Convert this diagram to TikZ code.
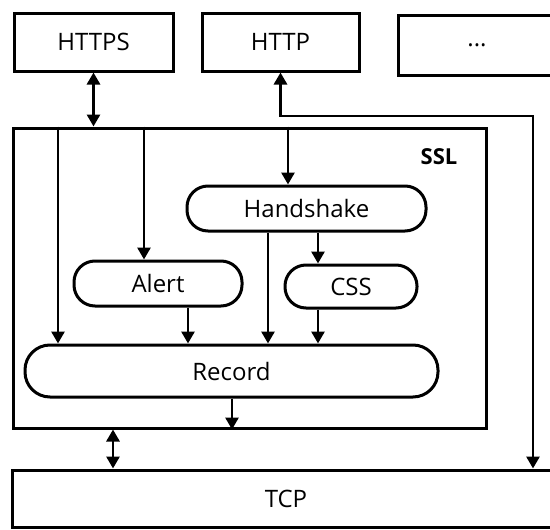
\documentclass[tikz,border=0pt]{standalone}
\usepackage{fontspec}
\setmainfont{Open Sans}
\usetikzlibrary{arrows.meta}
\begin{document}
\begin{tikzpicture}[x=1pt,y=-1pt,
  box/.style={draw, line width=3pt, rectangle, inner sep=0pt,
    font=\fontsize{24}{28}\selectfont},
  pill/.style={box, rounded corners=21pt},
  arr/.style={line width=2.8pt, -{Triangle[width=13pt,length=12pt]}},
  darr/.style={line width=2.8pt,
    {Triangle[width=13pt,length=12pt]}-{Triangle[width=13pt,length=12pt]}}]
\useasboundingbox (0,0) rectangle (550,530);
\fill[white] (0,0) rectangle (550,530);

% application protocols
\node[box, minimum width=159pt, minimum height=58pt] (https) at (93.5,42) {HTTPS};
\node[box, minimum width=157pt, minimum height=58pt] (http) at (280.5,42) {HTTP};
\node[box, minimum width=158pt, minimum height=60pt] (more) at (477,45) {...};

% SSL layer
\node[box, minimum width=473pt, minimum height=300pt] (ssl) at (249.5,278) {};
\node[font=\bfseries\fontsize{22}{26}\selectfont] (ssllbl) at (439,157) {SSL};
\node[pill, minimum width=239pt, minimum height=45pt] (hs) at (306.5,208.5) {Handshake};
\node[pill, minimum width=168pt, minimum height=45pt] (alert) at (158,283.5) {Alert};
\node[pill, minimum width=132pt, minimum height=43pt] (css) at (351,286.5) {CSS};
\node[pill, minimum width=413pt, minimum height=52pt, rounded corners=25pt] (rec) at (231.5,371) {Record};

% transport
\node[box, minimum width=548pt, minimum height=57pt] (tcp) at (286,498.5) {TCP};

% connectors
\draw[darr] (https.south) -- (https.south |- ssl.north);
\draw[darr] (113,0 |- ssl.south) -- (113,0 |- tcp.north);
\coordinate (turn) at (533,116);
\draw[darr] (http.south) -- (http.south |- turn) -- (turn) -- (turn |- tcp.north);

\draw[arr] (58,0 |- ssl.north) -- (58,0 |- rec.north);
\draw[arr] (144,0 |- ssl.north) -- (144,0 |- alert.north);
\draw[arr] (288,0 |- ssl.north) -- (288,0 |- hs.north);
\draw[arr] (268,0 |- hs.south) -- (268,0 |- rec.north);
\draw[arr] (318,0 |- hs.south) -- (318,0 |- css.north);
\draw[arr] (188,0 |- alert.south) -- (188,0 |- rec.north);
\draw[arr] (318,0 |- css.south) -- (318,0 |- rec.north);
\draw[arr] (232,0 |- rec.south) -- (232,0 |- ssl.south);
\end{tikzpicture}
\end{document}
